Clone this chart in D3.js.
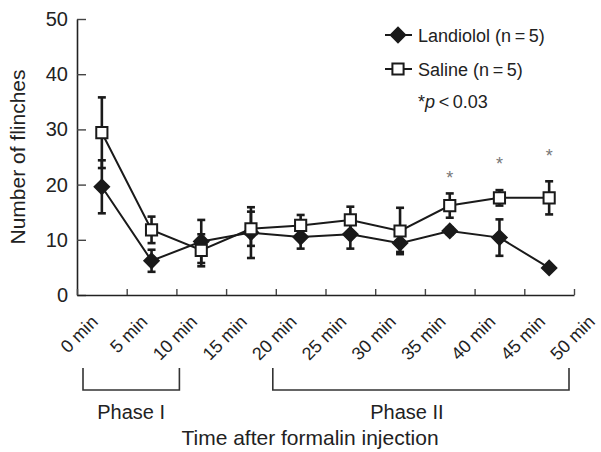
<!DOCTYPE html>
<html>
<head>
<meta charset="utf-8">
<script src="https://cdn.jsdelivr.net/npm/d3@7"></script>
<style>
  body { margin: 0; background: #fff; }
  text { font-family: "Liberation Sans", Arial, sans-serif; fill: #222; }
</style>
</head>
<body>
<div id="chart"></div>
<script>
// data
const tickLabels = ["0 min", "5 min", "10 min", "15 min", "20 min", "25 min",
    "30 min", "35 min", "40 min", "45 min", "50 min"];
const tickTimes = [0, 5, 10, 15, 20, 25, 30, 35, 40, 45, 50];
const binStarts = [0, 5, 10, 15, 20, 25, 30, 35, 40, 45];
const landiolol = [19.6, 6.2, 9.7, 11.3, 10.5, 11.0, 9.4, 11.6, 10.4, 4.9];
const landiololErr = [4.8, 2.0, 3.9, 4.6, 2.1, 2.6, 1.6, 0.6, 3.3, 0.4];
const saline = [29.4, 11.8, 8.1, 12.0, 12.6, 13.6, 11.6, 16.2, 17.6, 17.6];
const salineErr = [6.4, 2.4, 2.9, 3.1, 1.9, 2.4, 4.2, 2.2, 1.4, 3.0];
const starBins = [35, 40, 45];
const starLevels = [21.8, 24.2, 25.8];
const yTicks = [0, 10, 20, 30, 40, 50];

const w = 601, h = 452;
const margin = { left: 77, right: 27, top: 19, bottom: 157 };

const svg = d3.select("#chart")
    .append("svg")
    .attr("width", w)
    .attr("height", h);

//scales
const xScale = d3.scaleLinear().domain([0, 50]).range([margin.left, w - margin.right]);
const yScale = d3.scaleLinear().domain([0, 50]).range([h - margin.bottom, margin.top]);
const mid = t => xScale(t + 2.5);

//y axis
const yaxis = d3.axisLeft(yScale).tickValues(yTicks).tickSizeInner(-9).tickSizeOuter(0).tickPadding(9);
const ygrp = svg.append("g")
    .attr("transform", `translate(${margin.left},0)`)
    .call(yaxis);
ygrp.select(".domain").attr("stroke", "#222").attr("stroke-width", 1.6);
ygrp.selectAll(".tick line").attr("stroke", "#444").attr("stroke-width", 1.4);
ygrp.selectAll(".tick text")
    .attr("font-size", "20px")
    .attr("font-family", "Liberation Sans, Arial, sans-serif")
    .attr("fill", "#222");

//x axis
const xaxis = d3.axisBottom(xScale).tickValues(tickTimes).tickSizeInner(-6).tickSizeOuter(0).tickFormat("");
const xgrp = svg.append("g")
    .attr("transform", `translate(0,${yScale(0)})`)
    .call(xaxis);
xgrp.select(".domain").attr("stroke", "#222").attr("stroke-width", 1.6);
xgrp.selectAll(".tick line").attr("stroke", "#444").attr("stroke-width", 1.4);

//rotated time labels
svg.append("g").selectAll("text")
    .data(tickTimes)
    .enter()
    .append("text")
    .text((d, i) => tickLabels[i])
    .attr("transform", d => `translate(${xScale(d) + 22},${yScale(0) + 28}) rotate(-45)`)
    .attr("text-anchor", "end")
    .attr("font-size", "18px");

//series
const diamond = d3.symbol().type(d3.symbolSquare).size(104);
const square = d3.symbol().type(d3.symbolSquare).size(125);

function drawSeries(vals, errs, marker, rot, fill) {
    const g = svg.append("g");
    const line = d3.line().x((d, i) => mid(binStarts[i])).y(d => yScale(d));
    g.append("path")
        .attr("d", line(vals))
        .attr("fill", "none")
        .attr("stroke", "#1a1a1a")
        .attr("stroke-width", 2);
    const eb = g.selectAll(".eb").data(vals).enter().append("g");
    eb.append("line")
        .attr("x1", (d, i) => mid(binStarts[i]))
        .attr("x2", (d, i) => mid(binStarts[i]))
        .attr("y1", (d, i) => yScale(d + errs[i]))
        .attr("y2", (d, i) => yScale(d - errs[i]));
    eb.append("line")
        .attr("x1", (d, i) => mid(binStarts[i]) - 4)
        .attr("x2", (d, i) => mid(binStarts[i]) + 4)
        .attr("y1", (d, i) => yScale(d + errs[i]))
        .attr("y2", (d, i) => yScale(d + errs[i]));
    eb.append("line")
        .attr("x1", (d, i) => mid(binStarts[i]) - 4)
        .attr("x2", (d, i) => mid(binStarts[i]) + 4)
        .attr("y1", (d, i) => yScale(d - errs[i]))
        .attr("y2", (d, i) => yScale(d - errs[i]));
    eb.selectAll("line").attr("stroke", "#1a1a1a").attr("stroke-width", 2.6);
    g.selectAll(".mk").data(vals).enter()
        .append("path")
        .attr("d", marker)
        .attr("transform", (d, i) => `translate(${mid(binStarts[i])},${yScale(d)}) rotate(${rot})`)
        .attr("fill", fill)
        .attr("stroke", "#1a1a1a")
        .attr("stroke-width", 2);
}
drawSeries(landiolol, landiololErr, diamond, 45, "#1a1a1a");
drawSeries(saline, salineErr, square, 0, "#fff");

//significance stars
svg.append("g").selectAll("text")
    .data(starBins)
    .enter()
    .append("text")
    .text("*")
    .attr("x", d => mid(d))
    .attr("y", (d, i) => yScale(starLevels[i]) + 9)
    .attr("text-anchor", "middle")
    .attr("font-size", "18px")
    .style("fill", "#777");

//legend
const legend = svg.append("g");
const legItems = [["Landiolol (n\u2009=\u20095)", diamond, 45, "#1a1a1a", 35], ["Saline (n\u2009=\u20095)", square, 0, "#fff", 69]];
legItems.forEach(([label, mk, rot, fill, y]) => {
    legend.append("line").attr("x1", 385).attr("x2", 412).attr("y1", y).attr("y2", y)
        .attr("stroke", "#1a1a1a").attr("stroke-width", 2);
    legend.append("path").attr("d", mk).attr("transform", `translate(398,${y}) rotate(${rot})`)
        .attr("fill", fill).attr("stroke", "#1a1a1a").attr("stroke-width", 2);
    legend.append("text").text(label).attr("x", 418).attr("y", y + 7).attr("font-size", "18px");
});
const ptxt = legend.append("text").attr("x", 418).attr("y", 108).attr("font-size", "18px");
ptxt.append("tspan").text("*");
ptxt.append("tspan").text("p").attr("font-style", "italic");
ptxt.append("tspan").text("\u2009<\u20090.03");

//phase brackets
const brackets = [[0, 10, "Phase I"], [20, 50, "Phase II"]];
const bracketPad = [[6, 3, 0], [-3, -5, -14]];
brackets.forEach(([a, b, label], i) => {
    const x1 = xScale(a) + bracketPad[i][0], x2 = xScale(b) + bracketPad[i][1];
    svg.append("path")
        .attr("d", `M${x1},368V390H${x2}V368`)
        .attr("fill", "none")
        .attr("stroke", "#333")
        .attr("stroke-width", 1.6);
    svg.append("text").text(label)
        .attr("x", (x1 + x2) / 2 + bracketPad[i][2])
        .attr("y", 419)
        .attr("text-anchor", "middle")
        .attr("font-size", "20px");
});

//axis titles
svg.append("text")
    .text("Time after formalin injection")
    .attr("x", 310)
    .attr("y", 445)
    .attr("text-anchor", "middle")
    .attr("font-size", "21px");
svg.append("text")
    .text("Number of flinches")
    .attr("transform", `translate(25,157) rotate(-90)`)
    .attr("text-anchor", "middle")
    .attr("font-size", "21px");
</script>
</body>
</html>
